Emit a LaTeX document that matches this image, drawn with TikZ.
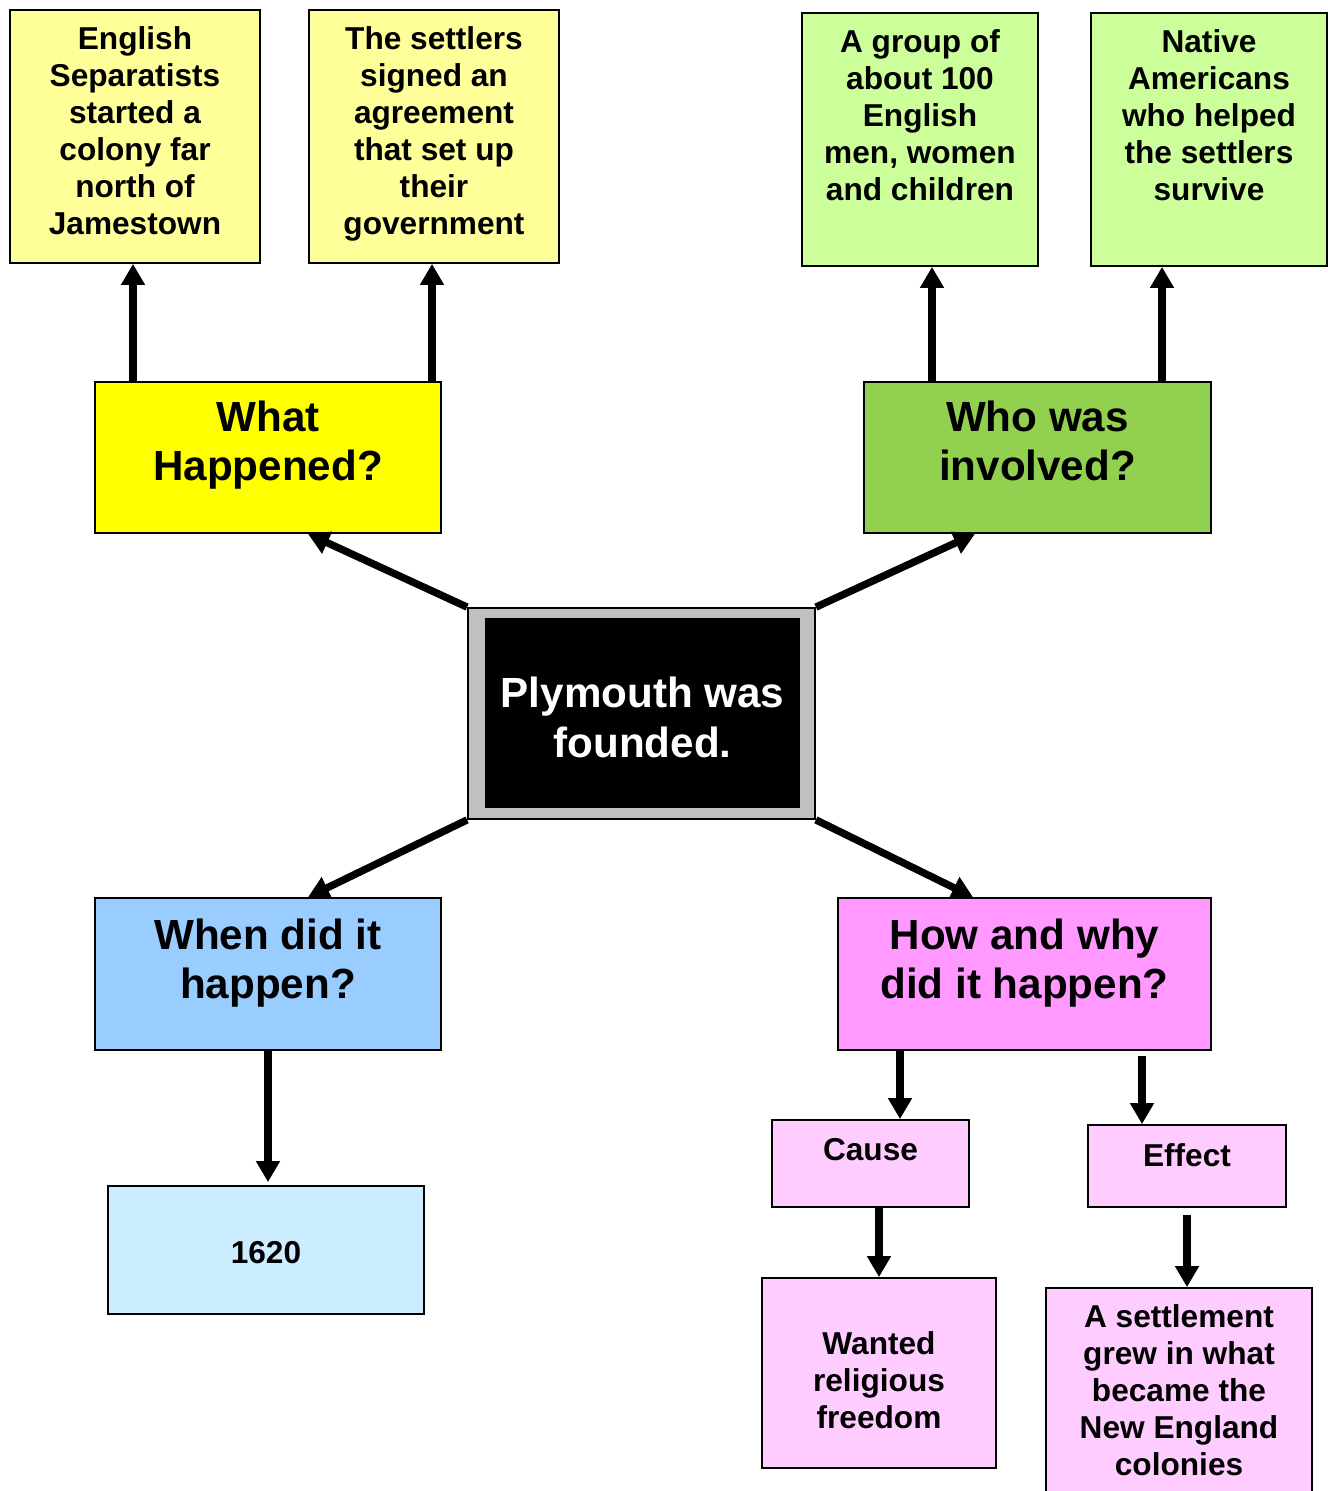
\documentclass[tikz,border=0pt]{standalone}
\usepackage{fontspec}
\setmainfont{Liberation Sans}
\usetikzlibrary{arrows.meta,positioning}

\definecolor{paleyellow}{HTML}{FFFF99}
\definecolor{brightyellow}{HTML}{FFFF00}
\definecolor{palegreen}{HTML}{CCFF99}
\definecolor{leafgreen}{HTML}{92D050}
\definecolor{paleblue}{HTML}{CCECFF}
\definecolor{skyblue}{HTML}{99CCFF}
\definecolor{brightpink}{HTML}{FF99FF}
\definecolor{palepink}{HTML}{FFCCFF}
\definecolor{framegray}{HTML}{C0C0C0}

\begin{document}
\begin{tikzpicture}[
    box/.style={draw, line width=1pt, inner sep=0pt},
    small/.style={font=\bfseries\fontsize{18}{21}\selectfont, align=center, inner sep=0pt},
    big/.style={font=\bfseries\fontsize{24}{28}\selectfont, align=center, inner sep=0pt},
    arr/.style={line width=4.2pt, -{Triangle[width=13pt,length=12pt]}}
]
    \useasboundingbox (0,0) rectangle (26.56,-29.82);
    \clip (0,0) rectangle (26.56,-29.82);

    % top row
    \node[box, fill=paleyellow, minimum width=5cm, minimum height=5.06cm] (a1) at (2.70,-2.73) {};
    \node[small, below=10pt of a1.north] (a1text) {English\\Separatists\\started a\\colony far\\north of\\Jamestown};
    \node[box, fill=paleyellow, minimum width=5cm, minimum height=5.06cm] (a2) at (8.68,-2.73) {};
    \node[small, below=10pt of a2.north] (a2text) {The settlers\\signed an\\agreement\\that set up\\their\\government};
    \node[box, fill=palegreen, minimum width=4.72cm, minimum height=5.06cm] (b1) at (18.40,-2.79) {};
    \node[small, below=10pt of b1.north] (b1text) {A group of\\about 100\\English\\men, women\\and children};
    \node[box, fill=palegreen, minimum width=4.72cm, minimum height=5.06cm] (b2) at (24.18,-2.79) {};
    \node[small, below=10pt of b2.north] (b2text) {Native\\Americans\\who helped\\the settlers\\survive};

    % questions
    \node[box, fill=brightyellow, minimum width=6.92cm, minimum height=3.02cm] (whatq) at (5.36,-9.15) {};
    \node[big, below=11pt of whatq.north] (whattext) {What\\Happened?};
    \node[box, fill=leafgreen, minimum width=6.94cm, minimum height=3.02cm] (whoq) at (20.75,-9.15) {};
    \node[big, below=11pt of whoq.north] (whotext) {Who was\\involved?};
    \node[box, fill=skyblue, minimum width=6.92cm, minimum height=3.04cm] (whenq) at (5.36,-19.48) {};
    \node[big, below=12pt of whenq.north] (whentext) {When did it\\happen?};
    \node[box, fill=brightpink, minimum width=7.46cm, minimum height=3.04cm] (howq) at (20.49,-19.48) {};
    \node[big, below=12pt of howq.north] (howtext) {How and why\\did it happen?};

    % centre
    \node[box, fill=framegray, minimum width=6.94cm, minimum height=4.22cm] (plym) at (12.83,-14.27) {};
    \node[fill=black, minimum width=6.30cm, minimum height=3.80cm, inner sep=0pt] (core) at (12.85,-14.26) {};
    \node[big, text=white, yshift=-2.5pt] (coretext) at (core) {Plymouth was\\founded.};

    % answers
    \node[box, fill=paleblue, minimum width=6.32cm, minimum height=2.56cm] (year) at (5.32,-25.00) {};
    \node[small, yshift=-1.5pt] (yeartext) at (year) {1620};
    \node[box, fill=palepink, minimum width=3.94cm, minimum height=1.74cm] (cause) at (17.41,-23.27) {};
    \node[small, below=11pt of cause.north] (causetext) {Cause};
    \node[box, fill=palepink, minimum width=3.96cm, minimum height=1.64cm] (effect) at (23.74,-23.32) {};
    \node[small, below=11pt of effect.north] (effecttext) {Effect};
    \node[box, fill=palepink, minimum width=4.68cm, minimum height=3.80cm] (wanted) at (17.58,-27.46) {};
    \node[small, yshift=-4pt] (wantedtext) at (wanted) {Wanted\\religious\\freedom};
    \node[box, fill=palepink, minimum width=5.32cm, minimum height=4.64cm] (settle) at (23.58,-28.08) {};
    \node[small, below=10pt of settle.north] (settletext) {A settlement\\grew in what\\became the\\New England\\colonies};

    % feet of the arrows
    \coordinate (a1foot) at ([xshift=-0.04cm]a1.south);
    \coordinate (a2foot) at ([xshift=-0.04cm]a2.south);
    \coordinate (b1foot) at ([xshift=0.24cm]b1.south);
    \coordinate (b2foot) at ([xshift=-0.94cm]b2.south);
    \coordinate (causehead) at ([xshift=0.59cm]cause.north);
    \coordinate (effecthead) at ([xshift=-0.90cm]effect.north);
    \coordinate (effectfoot) at ([yshift=-0.14cm]effect.south);

    \draw[arr] (whatq.north -| a1foot) -- (a1foot);
    \draw[arr] (whatq.north -| a2foot) -- (a2foot);
    \draw[arr] (whoq.north -| b1foot) -- (b1foot);
    \draw[arr] (whoq.north -| b2foot) -- (b2foot);

    \draw[arr] (plym.north west) -- ([xshift=0.8cm]whatq.south);
    \draw[arr] (plym.north east) -- ([xshift=-1.25cm]whoq.south);
    \draw[arr] (plym.south west) -- ([xshift=0.8cm]whenq.north);
    \draw[arr] (plym.south east) -- ([xshift=-1.03cm]howq.north);

    \draw[arr] (whenq.south) -- ([yshift=0.06cm]whenq.south |- year.north);
    \draw[arr] (howq.south -| causehead) -- (causehead);
    \draw[arr] ([yshift=-0.10cm]howq.south -| effecthead) -- (effecthead);
    \draw[arr] (cause.south -| wanted.north) -- (wanted.north);
    \draw[arr] (effectfoot) -- (effectfoot |- settle.north);
\end{tikzpicture}
\end{document}
